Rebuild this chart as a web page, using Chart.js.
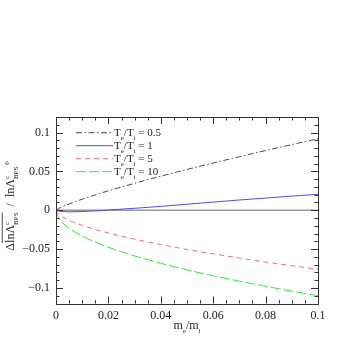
<!DOCTYPE html>
<html>
<head>
<meta charset="utf-8">
<script src="https://cdn.jsdelivr.net/npm/chart.js@4.4.1/dist/chart.umd.min.js"></script>
<style>
  html, body { margin: 0; padding: 0; background: #fff; }
  #wrap { width: 359px; height: 359px; }
</style>
</head>
<body>
<div id="wrap"><canvas id="chart"></canvas></div>
<script>
// m_e/m_i values
const massRatio = [0, 0.001, 0.0025, 0.005, 0.01, 0.015, 0.02, 0.03, 0.04, 0.05, 0.06, 0.07, 0.08, 0.09, 0.1];
// relative change for each Te/Ti
const ratio05 = [0, 0.0022, 0.0046, 0.0081, 0.0142, 0.0198, 0.025, 0.0347, 0.0438, 0.0525, 0.0608, 0.0689, 0.0768, 0.0845, 0.092];
const ratio1  = [0, -0.001, -0.0017, -0.002, -0.0017, -0.0008, 0.0004, 0.0025, 0.005, 0.0078, 0.0105, 0.0132, 0.0157, 0.0182, 0.0205];
const ratio5  = [0, -0.005, -0.0085, -0.0129, -0.0194, -0.0247, -0.0293, -0.0372, -0.0441, -0.0504, -0.0561, -0.0615, -0.0666, -0.0714, -0.076];
const ratio10 = [0, -0.010, -0.0162, -0.0232, -0.0332, -0.041, -0.0476, -0.0588, -0.0682, -0.0767, -0.0843, -0.0913, -0.0978, -0.1041, -0.11];
const legendValues = ['0.5', '1', '5', '10'];
const xTicks = [0, 0.02, 0.04, 0.06, 0.08, 0.1];
const yTicks = [-0.1, -0.05, 0, 0.05, 0.1];

const serif = '"Liberation Serif", "DejaVu Serif", serif';

function pts(ys) {
    return massRatio.map((x, i) => ({ x: x, y: ys[i] }));
}

function fmt(v) {
    if (Math.abs(v) < 1e-9) return '0';
    return v < 0 ? '\u2212' + String(+(-v).toFixed(3)) : String(+v.toFixed(3));
}

// draw text with sub/superscripts, returns width
function drawRich(ctx, parts, x, y, size, align) {
    const small = Math.round(size * 0.62);
    let total = 0, keepW = 0;
    const segs = parts.map(p => {
        const f = (p.sub || p.sup) ? small : size;
        ctx.font = f + 'px ' + serif;
        const w = ctx.measureText(p.t).width;
        let adv = w;
        if (p.keep) { adv = 0; keepW = w; }
        else if (keepW) { adv = Math.max(w, keepW); keepW = 0; }
        total += adv;
        return Object.assign({}, p, { f: f, w: w, adv: adv });
    });
    let cx = align === 'center' ? x - total / 2 : x;
    let overStart = null, overEnd = null;
    ctx.textAlign = 'left';
    ctx.textBaseline = 'alphabetic';
    segs.forEach(s => {
        ctx.font = s.f + 'px ' + serif;
        let dy = 0;
        if (s.sub) dy = size * 0.3;
        if (s.sup) dy = -size * 0.42;
        ctx.fillText(s.t, cx, y + dy);
        if (s.over) {
            if (overStart === null) overStart = cx;
            overEnd = cx + Math.max(s.w, s.adv);
        }
        cx += s.adv;
    });
    if (overStart !== null) {
        ctx.beginPath();
        ctx.lineWidth = 0.8;
        ctx.moveTo(overStart, y - size * 0.98);
        ctx.lineTo(overEnd, y - size * 0.98);
        ctx.stroke();
    }
    return total;
}

const framePlugin = {
    id: 'frame',
    afterDatasetsDraw(chart) {
        const ctx = chart.ctx;
        const a = chart.chartArea;
        const xs = chart.scales.x, ys = chart.scales.y;
        ctx.save();
        ctx.strokeStyle = '#333';
        ctx.lineWidth = 1;
        ctx.strokeRect(Math.round(a.left) + 0.5, Math.round(a.top) + 0.5,
            Math.round(a.right - a.left), Math.round(a.bottom - a.top));
        ctx.beginPath();
        // x ticks, minor every 0.005, major every 0.02
        for (let i = 0; i <= 20; i++) {
            const px = Math.round(xs.getPixelForValue(i * 0.005)) + 0.5;
            const len = (i % 4 === 0) ? 7 : 3.5;
            ctx.moveTo(px, a.bottom); ctx.lineTo(px, a.bottom - len);
            ctx.moveTo(px, a.top); ctx.lineTo(px, a.top + len);
        }
        // y ticks, minor every 0.01, major every 0.05
        for (let i = -12; i <= 12; i++) {
            const py = Math.round(ys.getPixelForValue(i * 0.01)) + 0.5;
            const len = (i % 5 === 0) ? 7 : 3.5;
            ctx.moveTo(a.left, py); ctx.lineTo(a.left + len, py);
            ctx.moveTo(a.right, py); ctx.lineTo(a.right - len, py);
        }
        ctx.stroke();

        // legend inside plot
        ctx.fillStyle = '#222';
        ctx.strokeStyle = '#222';
        let row = 0;
        chart.data.datasets.forEach(ds => {
            if (!ds.label) return;
            const y = 132.7 + row * 13;
            ctx.save();
            ctx.strokeStyle = ds.borderColor;
            ctx.lineWidth = ds.borderWidth;
            ctx.setLineDash(ds.borderDash || []);
            ctx.beginPath();
            ctx.moveTo(76, y); ctx.lineTo(113, y);
            ctx.stroke();
            ctx.restore();
            drawRich(ctx, [{ t: 'T' }, { t: 'e', sub: true }, { t: '/T' }, { t: 'i', sub: true }, { t: ' = ' + ds.label }], 114, y + 3.5, 11, 'left');
            row++;
        });

        // axis titles
        drawRich(ctx, [{ t: 'm' }, { t: 'e', sub: true }, { t: '/m' }, { t: 'i', sub: true }], 187, 329, 12, 'center');
        ctx.save();
        ctx.translate(14, 206);
        ctx.rotate(-Math.PI / 2);
        drawRich(ctx, [
            { t: '\u0394' },
            { t: 'ln\u039B', over: true },
            { t: 'c', sup: true, keep: true, over: true },
            { t: 'BPS', sub: true, over: true },
            { t: '  /  ' },
            { t: 'ln\u039B' },
            { t: 'c', sup: true, keep: true },
            { t: 'BPS', sub: true },
            { t: ' 0', sup: true }
        ], 0, 0, 12, 'center');
        ctx.restore();
        ctx.restore();
    }
};

const ctx = document.getElementById('chart').getContext('2d');
new Chart(ctx, {
    type: 'line',
    data: {
        datasets: [{
            label: legendValues[0],
            data: pts(ratio05),
            borderColor: '#4a4a4a',
            borderWidth: 1,
            borderDash: [6, 2.5, 1.5, 2.5]
        }, {
            label: legendValues[1],
            data: pts(ratio1),
            borderColor: '#4b4bff',
            borderWidth: 1
        }, {
            label: legendValues[2],
            data: pts(ratio5),
            borderColor: '#ff6b6b',
            borderWidth: 1,
            borderDash: [5, 4]
        }, {
            label: legendValues[3],
            data: pts(ratio10),
            borderColor: '#33ee33',
            borderWidth: 1,
            borderDash: [10, 3]
        }, {
            label: '',
            data: [{ x: 0, y: 0 }, { x: 0.1, y: 0 }],
            borderColor: '#9a9a9a',
            borderWidth: 1.6
        }]
    },
    options: {
        responsive: true,
        maintainAspectRatio: false,
        animation: false,
        devicePixelRatio: 1,
        elements: {
            point: { radius: 0 },
            line: { cubicInterpolationMode: 'monotone', fill: false }
        },
        layout: { padding: { top: 117, right: 41, left: 0, bottom: 0 } },
        plugins: {
            legend: { display: false },
            tooltip: { enabled: false }
        },
        scales: {
            x: {
                type: 'linear',
                min: 0,
                max: 0.1,
                afterBuildTicks: s => { s.ticks = xTicks.map(v => ({ value: v })); },
                afterFit: s => { s.height = 55.5; },
                grid: { display: false, drawTicks: false },
                border: { display: false },
                ticks: {
                    autoSkip: false,
                    maxRotation: 0,
                    padding: 5,
                    color: '#222',
                    font: { family: serif, size: 12 },
                    callback: v => fmt(v)
                }
            },
            y: {
                type: 'linear',
                min: -0.12,
                max: 0.12,
                afterBuildTicks: s => { s.ticks = yTicks.map(v => ({ value: v })); },
                afterFit: s => { s.width = 56; },
                grid: { display: false, drawTicks: false },
                border: { display: false },
                ticks: {
                    autoSkip: false,
                    padding: 6,
                    color: '#222',
                    font: { family: serif, size: 12 },
                    callback: v => fmt(v)
                }
            }
        }
    },
    plugins: [framePlugin]
});
</script>
</body>
</html>
